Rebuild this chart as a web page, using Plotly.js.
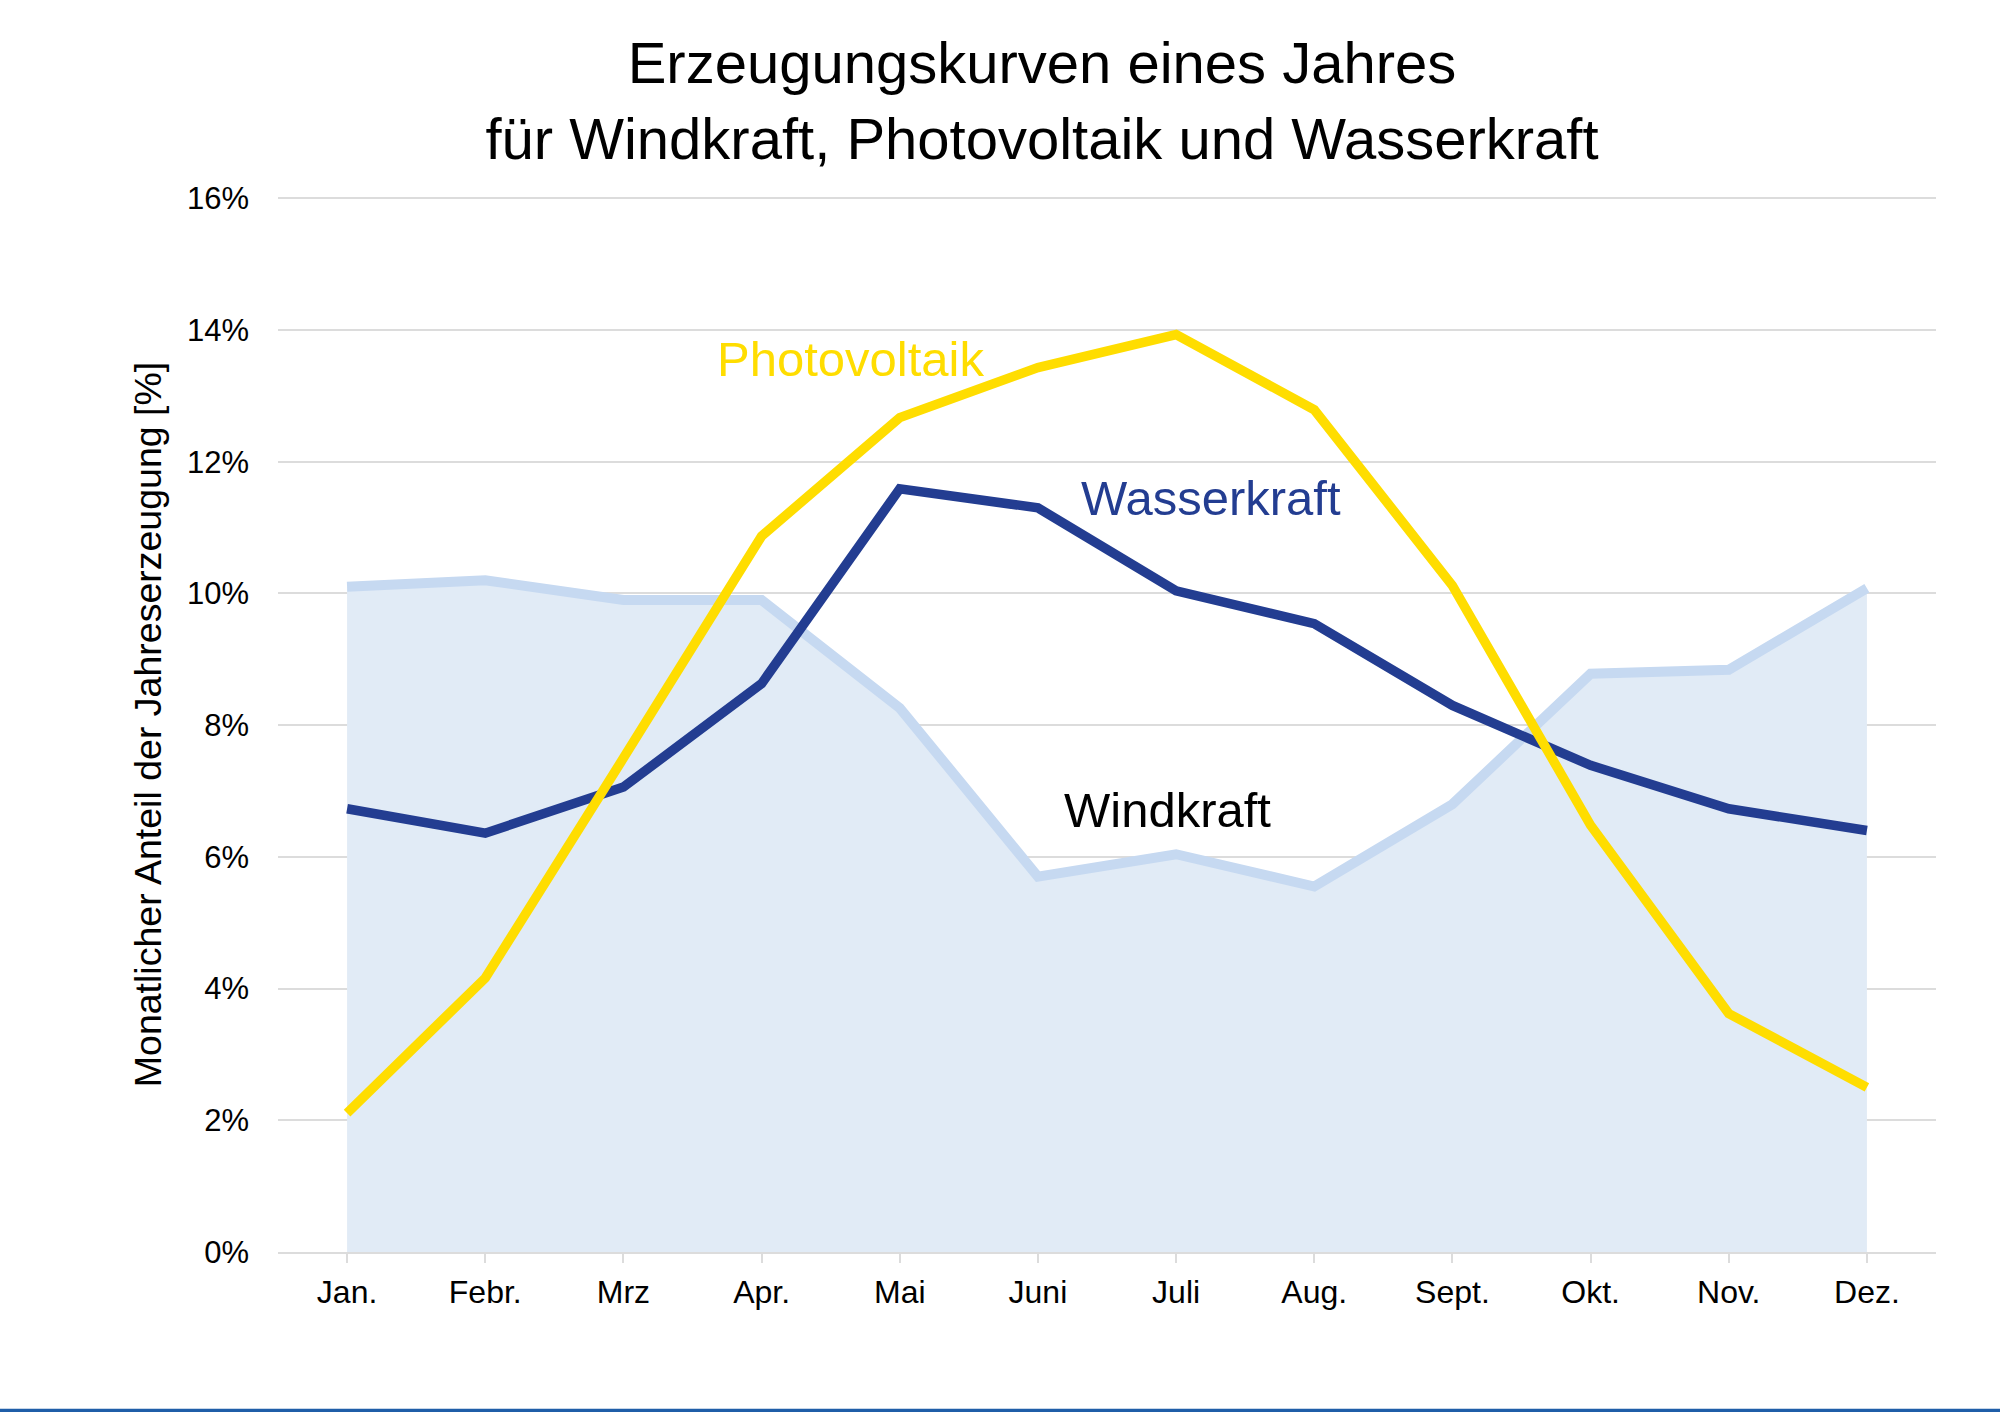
<!DOCTYPE html>
<html>
<head>
<meta charset="utf-8">
<script src="https://cdn.plot.ly/plotly-3.0.1.min.js"></script>
<style>
  html, body { margin: 0; padding: 0; background: #ffffff; }
  #chart { width: 2000px; height: 1412px; }
</style>
</head>
<body>
<div id="chart"></div>
<script>
// ── Data (Anteil je Monat, %) ────────────────────────────────
var months      = ['Jan.', 'Febr.', 'Mrz', 'Apr.', 'Mai', 'Juni', 'Juli', 'Aug.', 'Sept.', 'Okt.', 'Nov.', 'Dez.'];
var windkraft   = [10.1, 10.2, 9.9, 9.9, 8.26, 5.7, 6.04, 5.55, 6.8, 8.78, 8.84, 10.08];
var wasserkraft = [6.73, 6.36, 7.06, 8.63, 11.59, 11.3, 10.04, 9.54, 8.3, 7.39, 6.73, 6.4];
var photovolt   = [2.11, 4.16, 7.5, 10.87, 12.67, 13.43, 13.93, 12.79, 10.12, 6.48, 3.62, 2.5];
var yTicks      = [0, 2, 4, 6, 8, 10, 12, 14, 16];

var FONT = 'Liberation Sans, Arial, Helvetica, sans-serif';
var C = {
    windLine: '#c6d9f1',
    windFill: '#e1ebf6',
    wasser:   '#233d91',
    pv:       '#ffdd00',
    grid:     '#dcdcdc',
    text:     '#000000',
    bar:      '#1f5ea8'
};

var traces = [
    { x: months, y: windkraft, name: 'Windkraft', mode: 'lines', fill: 'tozeroy',
      fillcolor: C.windFill, line: { color: C.windLine, width: 10 }, hoverinfo: 'skip' },
    { x: months, y: wasserkraft, name: 'Wasserkraft', mode: 'lines',
      line: { color: C.wasser, width: 9.5 }, hoverinfo: 'skip' },
    { x: months, y: photovolt, name: 'Photovoltaik', mode: 'lines',
      line: { color: C.pv, width: 9.5 }, hoverinfo: 'skip' }
];

function label(text, x, y, color) {
    return { text: text, x: x, y: y, xref: 'x', yref: 'y', showarrow: false,
             xanchor: 'center', yanchor: 'middle',
             font: { family: FONT, size: 49, color: color } };
}

var layout = {
    width: 2000, height: 1412,
    paper_bgcolor: '#ffffff', plot_bgcolor: '#ffffff',
    margin: { l: 278, r: 64, t: 197, b: 160 },
    showlegend: false,
    title: {
        text: 'Erzeugungskurven eines Jahres<br>für Windkraft, Photovoltaik und Wasserkraft',
        font: { family: FONT, size: 58, color: C.text },
        x: 0.521, xref: 'container', xanchor: 'center',
        y: 0.941, yref: 'container', yanchor: 'top'
    },
    xaxis: {
        type: 'category', range: [-0.5, 11.5],
        showgrid: false, zeroline: false,
        showline: true, linecolor: C.grid, linewidth: 2,
        ticks: 'outside', ticklen: 9, tickwidth: 2, tickcolor: C.grid,
        ticklabelstandoff: 2,
        tickfont: { family: FONT, size: 32, color: C.text }
    },
    yaxis: {
        range: [0, 16.02], tickvals: yTicks,
        ticktext: yTicks.map(function (v) { return v + '%'; }),
        showgrid: true, gridcolor: C.grid, gridwidth: 2,
        zeroline: false, showline: false, ticks: '',
        ticklabelstandoff: 28,
        tickfont: { family: FONT, size: 31, color: C.text },
        title: { text: 'Monatlicher Anteil der Jahreserzeugung [%]', standoff: 13,
                 font: { family: FONT, size: 37.5, color: C.text } }
    },
    annotations: [
        label('Photovoltaik', 3.64, 13.56, C.pv),
        label('Wasserkraft', 6.25, 11.45, C.wasser),
        label('Windkraft', 5.94, 6.71, C.text)
    ],
    shapes: [
        // blue rule along the bottom edge
        { type: 'line', xref: 'paper', yref: 'paper', x0: -0.2, x1: 1.1, y0: -0.1505, y1: -0.1505,
          line: { color: C.bar, width: 4 } }
    ]
};

Plotly.newPlot('chart', traces, layout, { displayModeBar: false, staticPlot: true });
</script>
</body>
</html>
